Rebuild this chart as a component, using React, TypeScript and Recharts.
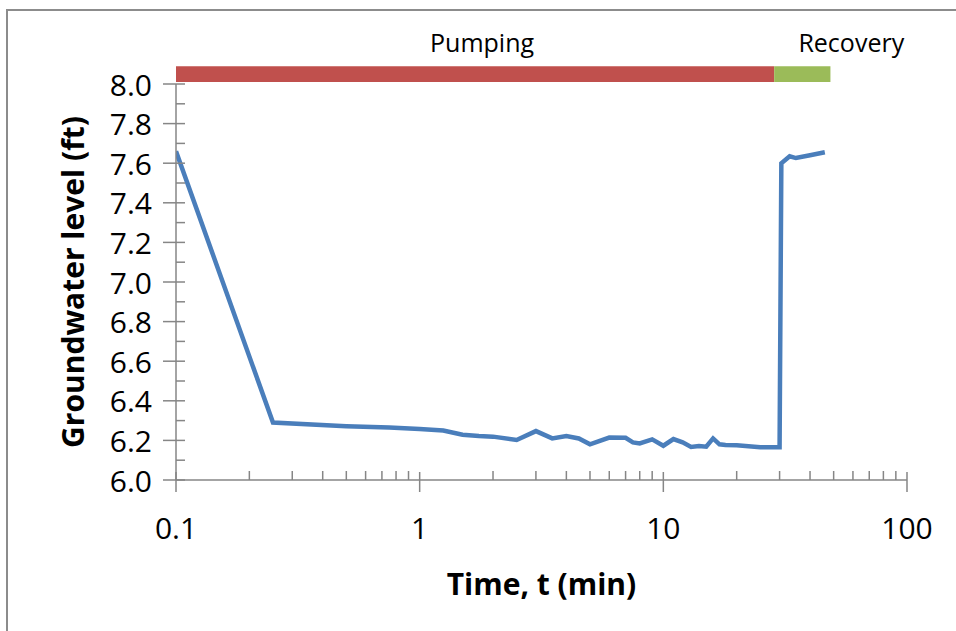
import React from "react";
import { LineChart, Line, XAxis, YAxis, ReferenceArea, Label } from "recharts";

// pumping test record, time in minutes, level in feet
const times = [
  0.1, 0.25, 0.5, 0.75, 1, 1.25, 1.5, 1.75, 2, 2.5, 3, 3.5, 4, 4.5, 5, 6, 7,
  7.5, 8, 9, 10, 11, 12, 13, 14, 15, 16, 17, 18, 20, 25, 30, 30.5, 33, 35, 40,
  46,
];
const levels = [
  7.66, 6.29, 6.272, 6.265, 6.258, 6.25, 6.229, 6.222, 6.219, 6.202, 6.247,
  6.21, 6.222, 6.21, 6.18, 6.214, 6.213, 6.19, 6.185, 6.205, 6.173, 6.207,
  6.19, 6.167, 6.172, 6.168, 6.21, 6.18, 6.177, 6.175, 6.166, 6.165, 7.6,
  7.635, 7.626, 7.64, 7.655,
];

const xMajorTicks = [0.1, 1, 10, 100];
const xMinorSteps = [2, 3, 4, 5, 6, 7, 8, 9];
const yTicks = [
  6.0, 6.1, 6.2, 6.3, 6.4, 6.5, 6.6, 6.7, 6.8, 6.9, 7.0, 7.1, 7.2, 7.3, 7.4,
  7.5, 7.6, 7.7, 7.8, 7.9, 8.0,
];

const phaseNames = ["Pumping", "Recovery"];
const phaseStart = [0.1, 28.5];
const phaseEnd = [28.5, 48.5];
const phaseBand = [8.01, 8.09];

const phaseColors = ["#C0504D", "#9BBB59"];
const phaseLabelShift = [7, 49];

const data = times.map((t, i) => ({ t, level: levels[i] }));
const xTicks = [
  ...xMajorTicks,
  ...xMajorTicks.slice(0, -1).flatMap((d) => xMinorSteps.map((m) => d * m)),
].sort((a, b) => a - b);

const FONT = "'Open Sans', 'Noto Sans', sans-serif";
const AXIS = "#868686";

const XTick = (props: any) => {
  const { x, y, payload } = props;
  const major = xMajorTicks.includes(payload.value);
  if (!major) {
    return <line x1={x} x2={x} y1={y - 9} y2={y} stroke={AXIS} strokeWidth={1.5} />;
  }
  return (
    <g>
      <line x1={x} x2={x} y1={y - 8} y2={y + 12} stroke={AXIS} strokeWidth={1.5} />
      <text
        x={x}
        y={y + 47}
        textAnchor="middle"
        dominantBaseline="central"
        fontSize={30}
        fontFamily={FONT}
        fill="#000"
      >
        {payload.value}
      </text>
    </g>
  );
};

const YTick = (props: any) => {
  const { x, y, payload } = props;
  const major = Math.round(payload.value * 10) % 2 === 0;
  if (!major) {
    return <line x1={x} x2={x + 9} y1={y} y2={y} stroke={AXIS} strokeWidth={1.5} />;
  }
  return (
    <g>
      <line x1={x - 13} x2={x + 9} y1={y} y2={y} stroke={AXIS} strokeWidth={1.5} />
      <text
        x={x - 24}
        y={y}
        textAnchor="end"
        dominantBaseline="central"
        fontSize={30}
        fontFamily={FONT}
        fill="#000"
      >
        {payload.value.toFixed(1)}
      </text>
    </g>
  );
};

const YTitle = (props: any) => {
  const { viewBox } = props;
  const cx = viewBox.x + 72;
  const cy = viewBox.y + viewBox.height / 2;
  return (
    <text
      x={cx}
      y={cy}
      transform={`rotate(-90 ${cx} ${cy})`}
      textAnchor="middle"
      dominantBaseline="central"
      fontSize={30}
      fontWeight="bold"
      fontFamily={FONT}
      fill="#000"
    >
      Groundwater level (ft)
    </text>
  );
};

const XTitle = (props: any) => {
  const { viewBox } = props;
  return (
    <text
      x={viewBox.x + viewBox.width / 2}
      y={viewBox.y + 103}
      textAnchor="middle"
      dominantBaseline="central"
      fontSize={30}
      fontWeight="bold"
      fontFamily={FONT}
      fill="#000"
    >
      Time, t (min)
    </text>
  );
};

const phaseLabel = (i: number) => (props: any) => {
  const { viewBox } = props;
  return (
    <text
      x={viewBox.x + viewBox.width / 2 + phaseLabelShift[i]}
      y={viewBox.y - 24}
      textAnchor="middle"
      dominantBaseline="central"
      fontSize={25}
      fontFamily={FONT}
      fill="#000"
    >
      {phaseNames[i]}
    </text>
  );
};

export default function App() {
  return (
    <div
      style={{
        position: "absolute",
        left: 0,
        top: 0,
        width: 956,
        height: 631,
        overflow: "hidden",
        background: "#fff",
      }}
    >
      <div
        style={{
          position: "absolute",
          left: 6,
          top: 9,
          width: 1000,
          height: 1000,
          border: "2px solid #8c8c8c",
        }}
      />
      <div style={{ position: "absolute", left: 0, top: 0 }}>
        <LineChart
          width={956}
          height={631}
          data={data}
          margin={{ top: 84, right: 49, bottom: 0, left: 0 }}
        >
          <XAxis
            dataKey="t"
            type="number"
            scale="log"
            domain={[0.1, 100]}
            allowDataOverflow
            ticks={xTicks}
            interval={0}
            tick={<XTick />}
            tickSize={0}
            tickMargin={0}
            height={151}
            stroke={AXIS}
            strokeWidth={1.5}
          >
            <Label content={<XTitle />} />
          </XAxis>
          <YAxis
            type="number"
            domain={[6, 8]}
            allowDataOverflow
            ticks={yTicks}
            interval={0}
            tick={<YTick />}
            tickSize={0}
            tickMargin={0}
            width={176}
            stroke={AXIS}
            strokeWidth={1.5}
          >
            <Label content={<YTitle />} />
          </YAxis>
          {phaseNames.map((name, i) => (
            <ReferenceArea
              key={name}
              x1={phaseStart[i]}
              x2={phaseEnd[i]}
              y1={phaseBand[0]}
              y2={phaseBand[1]}
              fill={phaseColors[i]}
              fillOpacity={1}
              stroke="none"
              ifOverflow="visible"
              label={phaseLabel(i)}
            />
          ))}
          <Line
            type="linear"
            dataKey="level"
            stroke="#4A7EBB"
            strokeWidth={4.5}
            dot={false}
            isAnimationActive={false}
          />
        </LineChart>
      </div>
    </div>
  );
}
